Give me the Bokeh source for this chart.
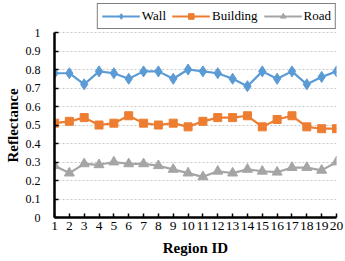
from bokeh.plotting import figure
from bokeh.models import Legend, LegendItem, FixedTicker, Range1d, Title
from bokeh.embed import file_html
from bokeh.resources import INLINE

region_ids = list(range(1, 21))
wall = [0.78, 0.78, 0.72, 0.79, 0.78, 0.75, 0.79, 0.79, 0.75, 0.80,
        0.79, 0.78, 0.75, 0.71, 0.79, 0.75, 0.79, 0.72, 0.76, 0.79]
building = [0.51, 0.52, 0.54, 0.50, 0.51, 0.55, 0.51, 0.50, 0.51, 0.49,
            0.52, 0.54, 0.54, 0.55, 0.49, 0.53, 0.55, 0.49, 0.48, 0.48]
road = [0.28, 0.24, 0.29, 0.285, 0.30, 0.29, 0.29, 0.28, 0.26, 0.24,
        0.22, 0.25, 0.24, 0.26, 0.25, 0.245, 0.27, 0.27, 0.255, 0.30]
y_ticks = [0, 0.1, 0.2, 0.3, 0.4, 0.5, 0.6, 0.7, 0.8, 0.9, 1]

FONT = "'Liberation Serif', 'Times New Roman', serif"

# the frame reaches up to the legend; the axis itself stops at 1
p = figure(width=345, height=261, output_backend="svg", toolbar_location=None,
           x_range=Range1d(1, 20), y_range=Range1d(0, 1.157),
           min_border_left=54, min_border_right=9, min_border_top=3,
           min_border_bottom=44, background_fill_color="white",
           border_fill_color="white")
p.outline_line_color = None

for ax in (p.xaxis[0], p.yaxis[0]):
    ax.axis_line_color = "black"
    ax.axis_line_width = 2.5
    ax.major_tick_line_color = "black"
    ax.major_tick_line_width = 1.5
    ax.major_tick_in = 4
    ax.major_tick_out = 0
    ax.minor_tick_line_color = None
    ax.major_label_text_font = FONT
    ax.major_label_text_color = "black"
    ax.axis_label_text_font = FONT
    ax.axis_label_text_font_style = "bold"
    ax.axis_label_text_font_size = "15px"
    ax.axis_label_text_color = "black"

p.xaxis.major_label_text_font_size = "13.5px"
p.yaxis.major_label_text_font_size = "12px"
p.yaxis.bounds = (0, 1)
p.xaxis.ticker = FixedTicker(ticks=region_ids)
p.yaxis.ticker = FixedTicker(ticks=y_ticks)
p.yaxis.major_label_overrides = {0: "0", 1: "1"}
p.xaxis.axis_label = "Region ID"
p.xaxis.major_label_standoff = 4
p.yaxis.major_label_standoff = 14
p.xaxis.axis_label_standoff = 7

p.add_layout(Title(text="Reflectance", align="left", offset=55, standoff=3,
                   text_font=FONT, text_font_style="bold", text_font_size="15px",
                   text_color="black"), "left")

p.xgrid.grid_line_color = None
p.ygrid.grid_line_color = "#C8C8C8"
p.ygrid.grid_line_dash = "2 2"
p.ygrid.grid_line_width = 1

# series
blue, orange, grey = "#5B9BD5", "#ED7D31", "#A5A5A5"
lw = p.line(region_ids, wall, line_color=blue, line_width=2.2)
mw = p.scatter(region_ids, wall, marker="diamond", size=11, fill_color=blue, line_color=blue)
lb = p.line(region_ids, building, line_color=orange, line_width=2.2)
mb = p.scatter(region_ids, building, marker="square", size=8, fill_color=orange, line_color=orange)
lr = p.line(region_ids, road, line_color=grey, line_width=2.2)
mr = p.scatter(region_ids, road, marker="triangle", size=10, fill_color=grey, line_color=grey)

legend = Legend(items=[LegendItem(label="Wall", renderers=[lw, mw]),
                       LegendItem(label="Building", renderers=[lb, mb]),
                       LegendItem(label="Road", renderers=[lr, mr])],
                orientation="horizontal", location="top_right",
                label_text_font=FONT, label_text_font_size="13px",
                label_text_color="black", glyph_width=38, glyph_height=14,
                label_standoff=2, spacing=6, padding=4, margin=0,
                border_line_color="black", border_line_width=1.5,
                background_fill_alpha=1)
p.add_layout(legend, "center")

open("out.html", "w").write(file_html(p, INLINE))
